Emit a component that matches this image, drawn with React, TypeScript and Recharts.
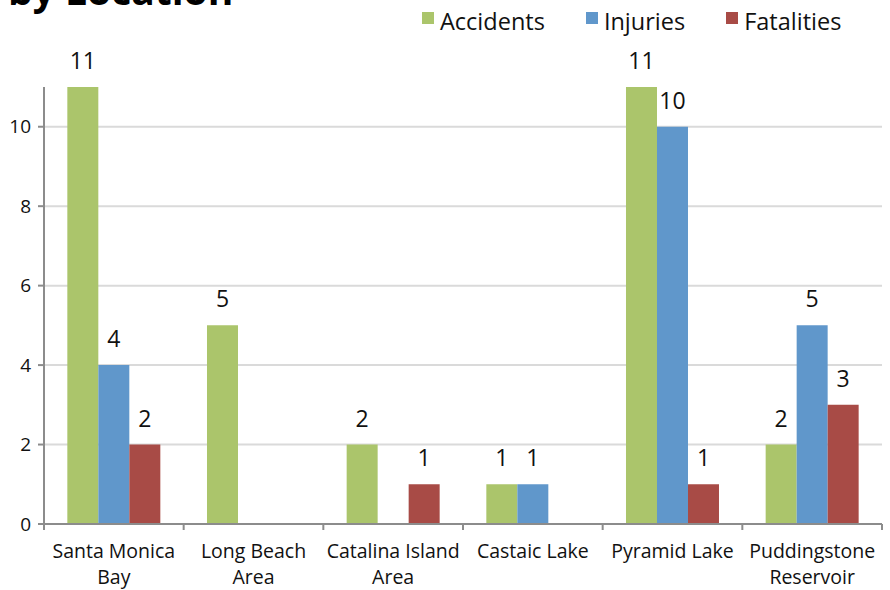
import React from 'react';
import { BarChart, Bar, XAxis, YAxis, CartesianGrid, LabelList } from 'recharts';

const locations = [
  'Santa Monica\nBay',
  'Long Beach\nArea',
  'Catalina Island\nArea',
  'Castaic Lake',
  'Pyramid Lake',
  'Puddingstone\nReservoir',
];
const accidents = [11, 5, 2, 1, 11, 2];
const injuries = [4, null, null, 1, 10, 5];
const fatalities = [2, null, 1, null, 1, 3];
const yTicks = [0, 2, 4, 6, 8, 10];

const series = [
  { key: 'accidents', name: 'Accidents', color: '#abc56b' },
  { key: 'injuries', name: 'Injuries', color: '#6097cb' },
  { key: 'fatalities', name: 'Fatalities', color: '#a84b46' },
];

const data = locations.map((loc, i) => ({
  loc,
  accidents: accidents[i],
  injuries: injuries[i],
  fatalities: fatalities[i],
}));

const FONT = '"Open Sans", sans-serif';
const AXIS_COLOR = '#8c8c8c';

const LocationTick = (props: any) => {
  const { x, y, payload, index, width } = props;
  const half = payload.offset ?? width / locations.length / 2;
  const lines = String(payload.value).split('\n');
  const last = index === locations.length - 1;
  return (
    <g>
      <line x1={x - half} y1={y - 8} x2={x - half} y2={y - 2} stroke={AXIS_COLOR} strokeWidth={2} />
      {last && (
        <line x1={x + half} y1={y - 8} x2={x + half} y2={y - 2} stroke={AXIS_COLOR} strokeWidth={2} />
      )}
      <text x={x} y={y} textAnchor="middle" fontFamily={FONT} fontSize={19.5} fill="#111">
        {lines.map((l, j) => (
          <tspan key={j} x={x} dy={26}>
            {l}
          </tspan>
        ))}
      </text>
    </g>
  );
};

const ValueLabel = (props: any) => {
  const { x, y, width, value } = props;
  if (value === null || value === undefined || value === 0) return null;
  return (
    <text x={x + width / 2} y={y - 18} textAnchor="middle" fontFamily={FONT} fontSize={23} fill="#111">
      {value}
    </text>
  );
};

export default function App() {
  return (
    <div style={{ position: 'absolute', left: 0, top: 0, width: 890, height: 590, background: '#fff' }}>
      <div
        style={{
          position: 'absolute',
          left: 8,
          top: -35,
          fontFamily: FONT,
          fontWeight: 700,
          fontSize: 39,
          lineHeight: '50px',
          color: '#000',
          whiteSpace: 'nowrap',
        }}
      >
        by Location
      </div>
      <div style={{ position: 'absolute', left: 422, top: 5, display: 'flex', fontFamily: FONT, fontSize: 23.5, color: '#111' }}>
        {series.map((s) => (
          <div key={s.key} style={{ display: 'flex', alignItems: 'flex-start', marginRight: 41 }}>
            <span style={{ width: 12, height: 12, background: s.color, marginTop: 7, marginRight: 6 }} />
            <span style={{ lineHeight: '32px' }}>{s.name}</span>
          </div>
        ))}
      </div>
      <BarChart
        width={890}
        height={590}
        data={data}
        margin={{ top: 87, right: 8, left: 0, bottom: 0 }}
        barCategoryGap="16.7%"
        barGap={0}
      >
        <CartesianGrid vertical={false} stroke="#dadada" strokeWidth={2} horizontalValues={[2, 4, 6, 8, 10]} />
        <XAxis
          dataKey="loc"
          height={66}
          interval={0}
          tickLine={false}
          axisLine={{ stroke: AXIS_COLOR, strokeWidth: 2 }}
          tick={<LocationTick />}
        />
        <YAxis
          width={44}
          domain={[0, 11]}
          ticks={yTicks}
          interval={0}
          tickSize={6}
          tickMargin={7}
          axisLine={{ stroke: AXIS_COLOR, strokeWidth: 2 }}
          tickLine={{ stroke: AXIS_COLOR, strokeWidth: 2 }}
          tick={{ fontFamily: FONT, fontSize: 19, fill: '#111' }}
        />
        {series.map((s) => (
          <Bar key={s.key} dataKey={s.key} name={s.name} fill={s.color} isAnimationActive={false}>
            <LabelList dataKey={s.key} content={<ValueLabel />} />
          </Bar>
        ))}
      </BarChart>
    </div>
  );
}
